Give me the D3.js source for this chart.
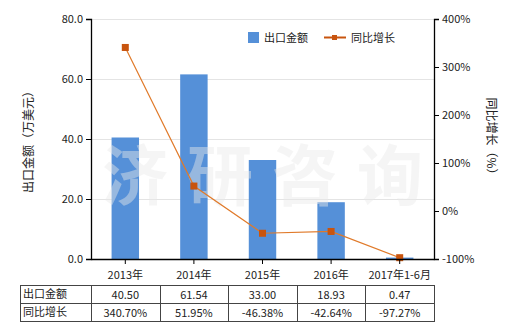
<!DOCTYPE html>
<html>
<head>
<meta charset="utf-8">
<script src="https://cdn.jsdelivr.net/npm/d3@7"></script>
<style>
  body { margin: 0; background: #fff; }
  svg text { font-family: "Noto Sans CJK SC", "DejaVu Sans", sans-serif; }
</style>
</head>
<body>
<div class="canvas"></div>
<script>
const categories = ["2013年", "2014年", "2015年", "2016年", "2017年1-6月"];
const exportValues = [40.5, 61.54, 33.0, 18.93, 0.47];
const growthValues = [340.7, 51.95, -46.38, -42.64, -97.27];
const exportLabels = ["40.50", "61.54", "33.00", "18.93", "0.47"];
const growthLabels = ["340.70%", "51.95%", "-46.38%", "-42.64%", "-97.27%"];
const leftTicks = [0, 20, 40, 60, 80];
const rightTicks = [-100, 0, 100, 200, 300, 400];

const dims = { width: 520, height: 330 };
const plot = { left: 91, right: 434, top: 19, bottom: 259 };
const barColor = "#5590d8";
const lineColor = "#c8540e";

const svg = d3
  .select(".canvas")
  .append("svg")
  .attr("width", dims.width)
  .attr("height", dims.height);

// scales
const x = d3
  .scaleBand()
  .domain(categories)
  .range([plot.left, plot.right])
  .paddingInner(0.6)
  .paddingOuter(0.3);

const xPoint = (c) => x(c) + x.bandwidth() / 2;

const yLeft = d3.scaleLinear().domain([0, 80]).range([plot.bottom, plot.top]);
const yRight = d3.scaleLinear().domain([-100, 400]).range([plot.bottom, plot.top]);

// grid
svg
  .append("g")
  .selectAll("line")
  .data(leftTicks.slice(1))
  .join("line")
  .attr("x1", plot.left)
  .attr("x2", plot.right)
  .attr("y1", (d) => yLeft(d) + 0.5)
  .attr("y2", (d) => yLeft(d) + 0.5)
  .attr("stroke", "#e4e4e4")
  .attr("stroke-width", 1);

// bars
svg
  .append("g")
  .selectAll("rect")
  .data(exportValues)
  .join("rect")
  .attr("x", (d, i) => x(categories[i]))
  .attr("width", x.bandwidth())
  .attr("y", (d) => yLeft(d))
  .attr("height", (d) => yLeft(0) - yLeft(d))
  .attr("fill", barColor);

// watermark
svg
  .append("g")
  .selectAll("text")
  .data(["济", "研", "咨", "询"])
  .join("text")
  .attr("x", (d, i) => 135 + i * 85)
  .attr("y", 200)
  .attr("text-anchor", "middle")
  .attr("font-size", 66)
  .attr("font-weight", "bold")
  .attr("fill", "#e8e8e8")
  .attr("fill-opacity", 0.45)
  .text((d) => d);

// line
const line = d3
  .line()
  .x((d, i) => xPoint(categories[i]))
  .y((d) => yRight(d));

svg
  .append("path")
  .datum(growthValues)
  .attr("d", line)
  .attr("fill", "none")
  .attr("stroke", "#e07a2a")
  .attr("stroke-width", 1.2);

svg
  .append("g")
  .selectAll("rect")
  .data(growthValues)
  .join("rect")
  .attr("x", (d, i) => xPoint(categories[i]) - 3.5)
  .attr("y", (d) => yRight(d) - 3.5)
  .attr("width", 7)
  .attr("height", 7)
  .attr("fill", lineColor);

// axes
const leftAxis = d3
  .axisLeft(yLeft)
  .tickValues(leftTicks)
  .tickSize(5)
  .tickFormat(d3.format(".1f"));

const rightAxis = d3
  .axisRight(yRight)
  .tickValues(rightTicks)
  .tickSize(5)
  .tickFormat((d) => d + "%");

const bottomAxis = d3
  .axisBottom(x)
  .tickSize(5)
  .tickSizeOuter(0);

const gl = svg.append("g").attr("transform", `translate(${plot.left},0)`).call(leftAxis);
const gr = svg.append("g").attr("transform", `translate(${plot.right},0)`).call(rightAxis);
const gb = svg.append("g").attr("transform", `translate(0,${plot.bottom})`).call(bottomAxis);

[gl, gr, gb].forEach((g) => {
  g.select(".domain").attr("stroke", "#000").attr("stroke-width", 1.3);
  g.selectAll(".tick line").attr("stroke", "#000");
  g.selectAll(".tick text").attr("font-size", 11).attr("fill", "#222");
});
gb.selectAll(".tick text").attr("dy", "1.1em");

// axis titles
svg
  .append("text")
  .attr("transform", "translate(33,139) rotate(-90)")
  .attr("text-anchor", "middle")
  .attr("font-size", 12)
  .attr("fill", "#222")
  .text("出口金额（万美元）");

svg
  .append("text")
  .attr("transform", "translate(487,139) rotate(90)")
  .attr("text-anchor", "middle")
  .attr("font-size", 12)
  .attr("fill", "#222")
  .text("同比增长（%）");

// legend
const legend = svg.append("g").attr("transform", "translate(248,32)");
legend.append("rect").attr("width", 11).attr("height", 11).attr("fill", barColor);
legend
  .append("text")
  .attr("x", 16)
  .attr("y", 10)
  .attr("font-size", 11)
  .attr("fill", "#222")
  .text("出口金额");
legend
  .append("line")
  .attr("x1", 76)
  .attr("x2", 98)
  .attr("y1", 5.5)
  .attr("y2", 5.5)
  .attr("stroke", lineColor)
  .attr("stroke-width", 2);
legend
  .append("rect")
  .attr("x", 84)
  .attr("y", 3)
  .attr("width", 5)
  .attr("height", 5)
  .attr("fill", lineColor);
legend
  .append("text")
  .attr("x", 103)
  .attr("y", 10)
  .attr("font-size", 11)
  .attr("fill", "#222")
  .text("同比增长");

// data table
const table = { left: 20, top: 285, rowH: 18 };
const rows = [
  { name: "出口金额", labels: exportLabels },
  { name: "同比增长", labels: growthLabels },
];
const colEdges = [table.left, plot.left].concat(
  categories.map((c, i) => plot.left + ((plot.right - plot.left) * (i + 1)) / categories.length)
);

const tg = svg.append("g");
tg.append("rect")
  .attr("x", table.left + 0.5)
  .attr("y", table.top + 0.5)
  .attr("width", plot.right - table.left)
  .attr("height", table.rowH * rows.length)
  .attr("fill", "none")
  .attr("stroke", "#444");

tg.append("line")
  .attr("x1", table.left)
  .attr("x2", plot.right)
  .attr("y1", table.top + table.rowH + 0.5)
  .attr("y2", table.top + table.rowH + 0.5)
  .attr("stroke", "#444");

tg.selectAll(".col")
  .data(colEdges.slice(1, -1))
  .join("line")
  .attr("class", "col")
  .attr("x1", (d) => Math.round(d) + 0.5)
  .attr("x2", (d) => Math.round(d) + 0.5)
  .attr("y1", table.top)
  .attr("y2", table.top + table.rowH * rows.length)
  .attr("stroke", "#444");

rows.forEach((r, ri) => {
  const ty = table.top + table.rowH * ri + 13;
  tg.append("text")
    .attr("x", table.left + 3)
    .attr("y", ty)
    .attr("font-size", 11)
    .attr("fill", "#222")
    .text(r.name);
  tg.selectAll(".cell" + ri)
    .data(r.labels)
    .join("text")
    .attr("x", (d, i) => xPoint(categories[i]))
    .attr("y", ty + 1)
    .attr("text-anchor", "middle")
    .attr("font-size", 11)
    .attr("fill", "#222")
    .text((d) => d);
});
</script>
</body>
</html>
